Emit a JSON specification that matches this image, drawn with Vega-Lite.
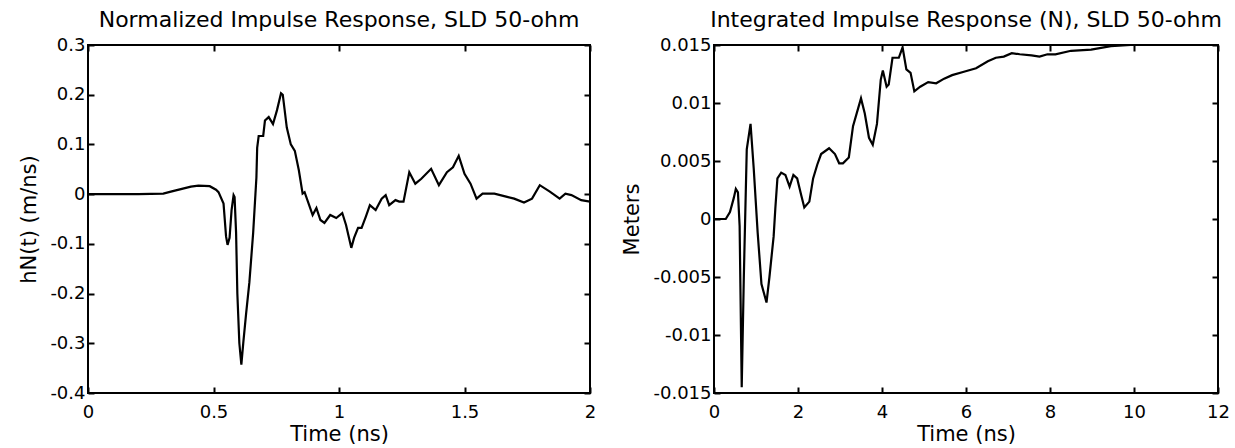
{
  "$schema": "https://vega.github.io/schema/vega-lite/v6.json",
  "background": "white",
  "padding": {"left": 17, "top": 8, "right": 5, "bottom": 0},
  "config": {
    "font": "DejaVu Sans",
    "view": {"stroke": "black", "strokeWidth": 2},
    "axis": {"domain": false, "grid": false, "tickColor": "black", "tickWidth": 2, "tickSize": -6, "labelColor": "black", "labelFont": "DejaVu Sans", "labelFontSize": 18, "labelFlush": false, "labelOverlap": false, "titleColor": "black", "titleFont": "DejaVu Sans", "titleFontSize": 21, "titleFontWeight": "normal"},
    "axisX": {"labelPadding": 16, "titlePadding": 2},
    "axisY": {"labelPadding": 9, "titlePadding": 10},
    "title": {"font": "DejaVu Sans", "fontSize": 22, "fontWeight": "normal", "color": "black", "frame": "group", "offset": 4}
  },
  "datasets": {
    "impulse": [
      {"t": 0, "v": 0}, {"t": 0.1, "v": 0}, {"t": 0.2, "v": 0}, {"t": 0.3, "v": 0.001}, {"t": 0.33, "v": 0.005}, {"t": 0.37, "v": 0.01}, {"t": 0.41, "v": 0.015}, {"t": 0.44, "v": 0.017}, {"t": 0.485, "v": 0.016}, {"t": 0.51, "v": 0.009}, {"t": 0.52, "v": 0.004}, {"t": 0.54, "v": -0.019}, {"t": 0.55, "v": -0.085}, {"t": 0.556, "v": -0.102}, {"t": 0.564, "v": -0.088}, {"t": 0.572, "v": -0.032}, {"t": 0.58, "v": -0.002}, {"t": 0.584, "v": -0.006}, {"t": 0.59, "v": -0.078}, {"t": 0.595, "v": -0.2}, {"t": 0.603, "v": -0.3}, {"t": 0.611, "v": -0.343}, {"t": 0.619, "v": -0.297}, {"t": 0.63, "v": -0.24}, {"t": 0.643, "v": -0.177}, {"t": 0.658, "v": -0.078}, {"t": 0.671, "v": 0.034}, {"t": 0.674, "v": 0.093}, {"t": 0.68, "v": 0.117}, {"t": 0.698, "v": 0.117}, {"t": 0.705, "v": 0.148}, {"t": 0.72, "v": 0.155}, {"t": 0.737, "v": 0.141}, {"t": 0.753, "v": 0.169}, {"t": 0.769, "v": 0.203}, {"t": 0.776, "v": 0.2}, {"t": 0.792, "v": 0.134}, {"t": 0.808, "v": 0.1}, {"t": 0.824, "v": 0.087}, {"t": 0.84, "v": 0.048}, {"t": 0.855, "v": 0.001}, {"t": 0.863, "v": 0.004}, {"t": 0.879, "v": -0.019}, {"t": 0.895, "v": -0.042}, {"t": 0.91, "v": -0.028}, {"t": 0.926, "v": -0.052}, {"t": 0.942, "v": -0.058}, {"t": 0.965, "v": -0.042}, {"t": 0.989, "v": -0.048}, {"t": 1.013, "v": -0.038}, {"t": 1.028, "v": -0.062}, {"t": 1.049, "v": -0.108}, {"t": 1.06, "v": -0.088}, {"t": 1.076, "v": -0.068}, {"t": 1.09, "v": -0.068}, {"t": 1.107, "v": -0.045}, {"t": 1.123, "v": -0.022}, {"t": 1.146, "v": -0.032}, {"t": 1.17, "v": -0.009}, {"t": 1.186, "v": -0.002}, {"t": 1.2, "v": -0.022}, {"t": 1.225, "v": -0.012}, {"t": 1.24, "v": -0.015}, {"t": 1.257, "v": -0.015}, {"t": 1.28, "v": 0.044}, {"t": 1.304, "v": 0.021}, {"t": 1.328, "v": 0.031}, {"t": 1.367, "v": 0.051}, {"t": 1.398, "v": 0.018}, {"t": 1.43, "v": 0.044}, {"t": 1.454, "v": 0.054}, {"t": 1.477, "v": 0.077}, {"t": 1.5, "v": 0.041}, {"t": 1.524, "v": 0.021}, {"t": 1.548, "v": -0.009}, {"t": 1.572, "v": 0.001}, {"t": 1.619, "v": 0.001}, {"t": 1.666, "v": -0.005}, {"t": 1.698, "v": -0.009}, {"t": 1.737, "v": -0.017}, {"t": 1.769, "v": -0.009}, {"t": 1.8, "v": 0.018}, {"t": 1.84, "v": 0.005}, {"t": 1.879, "v": -0.009}, {"t": 1.902, "v": 0.001}, {"t": 1.926, "v": -0.002}, {"t": 1.965, "v": -0.012}, {"t": 2.0, "v": -0.015}
    ],
    "integrated": [
      {"t": 0, "v": 0}, {"t": 0.28, "v": 0}, {"t": 0.38, "v": 0.0006}, {"t": 0.47, "v": 0.0018}, {"t": 0.52, "v": 0.0026}, {"t": 0.57, "v": 0.0023}, {"t": 0.61, "v": -0.0006}, {"t": 0.66, "v": -0.0145}, {"t": 0.71, "v": -0.005}, {"t": 0.78, "v": 0.006}, {"t": 0.87, "v": 0.0082}, {"t": 0.945, "v": 0.0044}, {"t": 1.04, "v": -0.0012}, {"t": 1.13, "v": -0.0056}, {"t": 1.25, "v": -0.0072}, {"t": 1.32, "v": -0.005}, {"t": 1.42, "v": -0.0015}, {"t": 1.46, "v": 0.0009}, {"t": 1.51, "v": 0.0035}, {"t": 1.6, "v": 0.004}, {"t": 1.7, "v": 0.0038}, {"t": 1.8, "v": 0.0028}, {"t": 1.89, "v": 0.0038}, {"t": 1.98, "v": 0.0035}, {"t": 2.08, "v": 0.002}, {"t": 2.15, "v": 0.001}, {"t": 2.27, "v": 0.0015}, {"t": 2.36, "v": 0.0035}, {"t": 2.46, "v": 0.0047}, {"t": 2.55, "v": 0.0056}, {"t": 2.74, "v": 0.0061}, {"t": 2.88, "v": 0.0056}, {"t": 2.98, "v": 0.0048}, {"t": 3.07, "v": 0.0048}, {"t": 3.21, "v": 0.0053}, {"t": 3.31, "v": 0.008}, {"t": 3.5, "v": 0.0104}, {"t": 3.59, "v": 0.0091}, {"t": 3.69, "v": 0.007}, {"t": 3.78, "v": 0.0064}, {"t": 3.88, "v": 0.0082}, {"t": 3.97, "v": 0.012}, {"t": 4.02, "v": 0.0128}, {"t": 4.11, "v": 0.0114}, {"t": 4.16, "v": 0.0116}, {"t": 4.25, "v": 0.0139}, {"t": 4.4, "v": 0.0139}, {"t": 4.49, "v": 0.0148}, {"t": 4.58, "v": 0.0129}, {"t": 4.68, "v": 0.0126}, {"t": 4.77, "v": 0.011}, {"t": 4.91, "v": 0.0114}, {"t": 5.1, "v": 0.0118}, {"t": 5.29, "v": 0.0117}, {"t": 5.48, "v": 0.0121}, {"t": 5.67, "v": 0.0124}, {"t": 5.95, "v": 0.0127}, {"t": 6.24, "v": 0.013}, {"t": 6.52, "v": 0.0136}, {"t": 6.71, "v": 0.0139}, {"t": 6.9, "v": 0.014}, {"t": 7.09, "v": 0.0143}, {"t": 7.28, "v": 0.0142}, {"t": 7.56, "v": 0.0141}, {"t": 7.75, "v": 0.014}, {"t": 7.94, "v": 0.0142}, {"t": 8.13, "v": 0.0142}, {"t": 8.5, "v": 0.0145}, {"t": 8.98, "v": 0.0146}, {"t": 9.45, "v": 0.0149}, {"t": 9.92, "v": 0.015}, {"t": 10.3, "v": 0.015}
    ]
  },
  "spacing": 23,
  "hconcat": [
    {
      "width": 502,
      "height": 348,
      "title": {"text": "Normalized Impulse Response, SLD 50-ohm"},
      "data": {"name": "impulse"},
      "layer": [
        {
          "mark": {"type": "line", "color": "black", "strokeWidth": 2.2, "clip": true},
          "encoding": {
            "x": {"field": "t", "type": "quantitative", "scale": {"domain": [0, 2], "nice": false, "zero": false}, "axis": {"title": "Time (ns)", "values": [0, 0.5, 1, 1.5, 2], "labelExpr": "replace(format(datum.value, '.1~f'), '\u2212', '-')"}},
            "y": {"field": "v", "type": "quantitative", "scale": {"domain": [-0.4, 0.3], "nice": false, "zero": false}, "axis": {"title": "hN(t) (m/ns)", "values": [-0.4, -0.3, -0.2, -0.1, 0, 0.1, 0.2, 0.3], "labelExpr": "replace(format(datum.value, '.1~f'), '\u2212', '-')"}}
          }
        },
        {
          "mark": {"type": "line", "opacity": 0},
          "encoding": {
            "x": {"field": "t", "type": "quantitative", "axis": {"orient": "top", "title": null, "labels": false, "values": [0, 0.5, 1, 1.5, 2]}},
            "y": {"field": "v", "type": "quantitative", "axis": {"orient": "right", "title": null, "labels": false, "values": [-0.4, -0.3, -0.2, -0.1, 0, 0.1, 0.2, 0.3]}}
          }
        }
      ],
      "resolve": {"axis": {"x": "independent", "y": "independent"}}
    },
    {
      "width": 504,
      "height": 348,
      "title": {"text": "Integrated Impulse Response (N), SLD 50-ohm"},
      "data": {"name": "integrated"},
      "layer": [
        {
          "mark": {"type": "line", "color": "black", "strokeWidth": 2.2, "clip": true},
          "encoding": {
            "x": {"field": "t", "type": "quantitative", "scale": {"domain": [0, 12], "nice": false, "zero": false}, "axis": {"title": "Time (ns)", "values": [0, 2, 4, 6, 8, 10, 12], "format": "d"}},
            "y": {"field": "v", "type": "quantitative", "scale": {"domain": [-0.015, 0.015], "nice": false, "zero": false}, "axis": {"title": "Meters", "values": [-0.015, -0.01, -0.005, 0, 0.005, 0.01, 0.015], "labelExpr": "replace(format(datum.value, '.3~f'), '\u2212', '-')"}}
          }
        },
        {
          "mark": {"type": "line", "opacity": 0},
          "encoding": {
            "x": {"field": "t", "type": "quantitative", "axis": {"orient": "top", "title": null, "labels": false, "values": [0, 2, 4, 6, 8, 10, 12]}},
            "y": {"field": "v", "type": "quantitative", "axis": {"orient": "right", "title": null, "labels": false, "values": [-0.015, -0.01, -0.005, 0, 0.005, 0.01, 0.015]}}
          }
        }
      ],
      "resolve": {"axis": {"x": "independent", "y": "independent"}}
    }
  ]
}
